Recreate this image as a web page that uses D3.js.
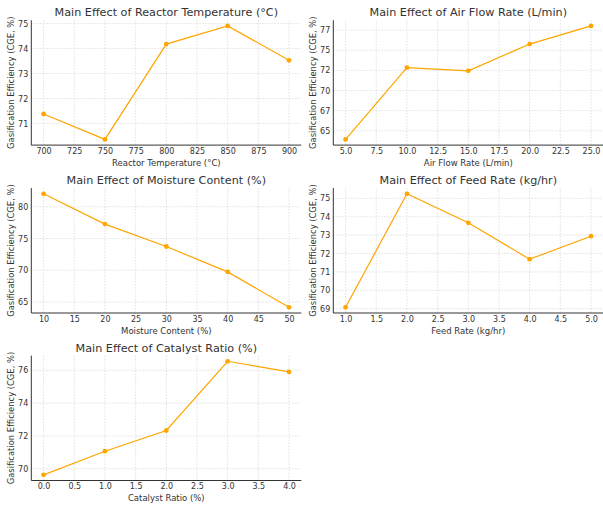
<!DOCTYPE html>
<html><head><meta charset="utf-8">
<script src="https://cdn.jsdelivr.net/npm/d3@7"></script>
<style>
body{margin:0;background:#fff;}
svg{display:block;font-family:"DejaVu Sans",sans-serif;}
</style></head>
<body><svg id="c" width="603" height="506"></svg>
<script>
// ---- data ----
const tempX = [700, 750, 800, 850, 900];
const tempY = [71.38, 70.36, 74.18, 74.91, 73.53];
const airX = [5, 10, 15, 20, 25];
const airY = [63.92, 72.85, 72.45, 75.77, 78.03];
const moistX = [10, 20, 30, 40, 50];
const moistY = [82.05, 77.27, 73.74, 69.74, 64.16];
const feedX = [1, 2, 3, 4, 5];
const feedY = [69.07, 75.25, 73.67, 71.69, 72.94];
const catX = [0, 1, 2, 3, 4];
const catY = [69.63, 71.07, 72.33, 76.55, 75.9];

const tempXTicks = [700, 725, 750, 775, 800, 825, 850, 875, 900];
const tempYTicks = [71, 72, 73, 74, 75];
const airXTicks = [5, 7.5, 10, 12.5, 15, 17.5, 20, 22.5, 25];
const airYTicks = [65, 67.5, 70, 72.5, 75, 77.5];
const airYLabels = ["65", "67", "70", "72", "75", "77"];
const moistXTicks = [10, 15, 20, 25, 30, 35, 40, 45, 50];
const moistYTicks = [65, 70, 75, 80];
const feedXTicks = [1, 1.5, 2, 2.5, 3, 3.5, 4, 4.5, 5];
const feedYTicks = [69, 70, 71, 72, 73, 74, 75];
const catXTicks = [0, 0.5, 1, 1.5, 2, 2.5, 3, 3.5, 4];
const catYTicks = [70, 72, 74, 76];

const titles = ["Main Effect of Reactor Temperature (°C)", "Main Effect of Air Flow Rate (L/min)",
  "Main Effect of Moisture Content (%)", "Main Effect of Feed Rate (kg/hr)", "Main Effect of Catalyst Ratio (%)"];
const xLabels = ["Reactor Temperature (°C)", "Air Flow Rate (L/min)", "Moisture Content (%)",
  "Feed Rate (kg/hr)", "Catalyst Ratio (%)"];
const yLabel = "Gasification Efficiency (CGE, %)";

const panels = [
  {x: tempX, y: tempY, xt: tempXTicks, yt: tempYTicks, yl: null, xf: d3.format("d"), col: 0, row: 0},
  {x: airX, y: airY, xt: airXTicks, yt: airYTicks, yl: airYLabels, xf: d3.format(".1f"), col: 1, row: 0},
  {x: moistX, y: moistY, xt: moistXTicks, yt: moistYTicks, yl: null, xf: d3.format("d"), col: 0, row: 1},
  {x: feedX, y: feedY, xt: feedXTicks, yt: feedYTicks, yl: null, xf: d3.format(".1f"), col: 1, row: 1},
  {x: catX, y: catY, xt: catXTicks, yt: catYTicks, yl: null, xf: d3.format(".1f"), col: 0, row: 2}
];

const colLeft = [31.3, 333.3];
const W = 270;
const rowTop = [20.2, 188.1, 355.6];
const H = 124.9;
const textCol = "#333";
const orange = "#FFA500";

const svg = d3.select("#c");

panels.forEach((p, i) => {
  const L = colLeft[p.col], T = rowTop[p.row];
  const xe = d3.extent(p.x), ye = d3.extent(p.y);
  const xp = (xe[1] - xe[0]) * 0.05, yp = (ye[1] - ye[0]) * 0.05;
  const x = d3.scaleLinear().domain([xe[0] - xp, xe[1] + xp]).range([L, L + W]);
  const y = d3.scaleLinear().domain([ye[0] - yp, ye[1] + yp]).range([T + H, T]);
  const g = svg.append("g");

  g.append("g").selectAll("line").data(p.xt).join("line")
    .attr("x1", d => x(d)).attr("x2", d => x(d)).attr("y1", T).attr("y2", T + H)
    .attr("stroke", "#d4d4d4").attr("stroke-width", 0.7).attr("stroke-dasharray", "1.5,1.5");
  g.append("g").selectAll("line").data(p.yt).join("line")
    .attr("x1", L).attr("x2", L + W).attr("y1", d => y(d)).attr("y2", d => y(d))
    .attr("stroke", "#d4d4d4").attr("stroke-width", 0.7).attr("stroke-dasharray", "1.5,1.5");

  const xa = d3.axisBottom(x).tickValues(p.xt).tickFormat(p.xf).tickSize(0).tickPadding(3);
  const ax = g.append("g").attr("transform", `translate(0,${T + H})`).call(xa);
  const ya = d3.axisLeft(y).tickValues(p.yt).tickSize(0).tickPadding(3)
    .tickFormat((d, k) => p.yl ? p.yl[k] : d3.format("d")(d));
  const ay = g.append("g").attr("transform", `translate(${L},0)`).call(ya);
  [ax, ay].forEach(a => {
    a.select(".domain").attr("stroke", "#333").attr("stroke-width", 1);
    a.selectAll("text").attr("fill", textCol).style("font-size", "8px").style("font-family", "DejaVu Sans");
  });
  ax.select(".domain").attr("d", `M${L},0H${L + W}`);
  ay.select(".domain").attr("d", `M0,${T}V${T + H}`);

  const pts = p.x.map((v, k) => [v, p.y[k]]);
  g.append("path").datum(pts)
    .attr("d", d3.line().x(d => x(d[0])).y(d => y(d[1])))
    .attr("fill", "none").attr("stroke", orange).attr("stroke-width", 1.2);
  g.append("g").selectAll("circle").data(pts).join("circle")
    .attr("cx", d => x(d[0])).attr("cy", d => y(d[1])).attr("r", 2.4).attr("fill", orange);

  g.append("text").attr("x", L + W / 2).attr("y", T - 4).attr("text-anchor", "middle")
    .attr("fill", textCol).style("font-size", "11.2px").text(titles[i]);
  g.append("text").attr("x", L + W / 2).attr("y", T + H + 20.5).attr("text-anchor", "middle")
    .attr("fill", textCol).style("font-size", "8.5px").text(xLabels[i]);
  g.append("text").attr("transform", `translate(${L - 17.5},${T + H / 2}) rotate(-90)`)
    .attr("text-anchor", "middle").attr("fill", textCol).style("font-size", "8.4px").text(yLabel);
});
</script></body></html>
